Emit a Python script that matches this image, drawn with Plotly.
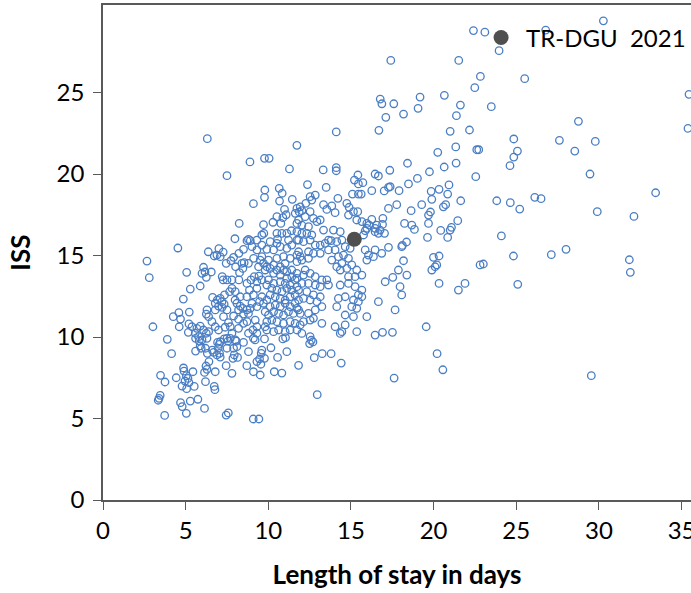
import plotly.graph_objects as go

# Length of stay (days) and ISS for each hospital
los_days = [
    6.31, 11.73, 8.89, 9.77, 10.05, 11.28, 7.5,
    22.41, 23.1, 17.41, 21.52, 22.83, 22.49, 16.77, 16.87, 17.59, 19.18,
    19.06, 18.18, 17.11, 20.65, 21.62, 21.38, 23.49, 14.11, 16.69, 21.0,
    22.17, 20.25, 21.34, 22.61, 22.73, 13.32, 14.11, 14.11, 15.42, 17.35,
    18.42, 19.75, 20.64, 21.36,
    30.27, 26.78, 23.96, 25.51, 35.45, 35.39, 28.76, 24.85, 27.61, 29.78,
    25.07, 28.54, 24.85, 24.62,
    29.46, 33.43, 23.82, 24.64, 25.21, 26.12, 26.5, 29.9, 32.12, 24.1,
    24.83, 27.12, 28.01, 31.84, 31.9, 25.09, 29.54,
    12.6, 12.7, 12.5, 11.83, 12.78, 13.26, 13.8, 14.41, 12.96, 17.61,
    20.21, 20.56,
    3.89, 4.15, 3.48, 3.75, 4.43, 4.87, 4.9, 5.44, 5.04, 5.14,
    4.96, 5.2, 4.78, 5.52, 5.06, 3.46, 3.39, 3.34, 3.73, 4.69,
    4.79, 5.04, 5.28, 5.74, 6.14, 6.2, 6.73, 6.77, 6.79, 6.23,
    6.29, 6.14, 6.41, 7.45, 7.58, 9.09, 9.43, 5.6, 5.88, 5.82,
    5.94, 6.2, 6.31, 6.61, 6.97, 7.03, 7.05, 6.89, 6.69, 7.09,
    7.45, 7.8, 7.5, 7.56, 7.5, 7.86, 7.94, 7.9, 8.06, 8.14,
    8.1, 8.5, 8.7, 8.8, 9.1, 9.31, 9.47, 9.55, 9.51, 9.61,
    9.57, 9.1, 9.2, 9.77, 10.16, 9.77, 10.36, 10.56, 10.82, 11.12,
    10.88, 11.04, 5.6, 5.78, 5.99, 6.29, 6.93, 7.09, 7.33, 7.7,
    8.0,
    10.66, 10.84, 9.79, 9.77, 11.45, 10.68, 9.1, 10.98, 11.08, 11.63,
    11.87, 10.52, 10.88, 8.24, 9.71, 10.28, 10.76, 11.73, 9.73, 10.52,
    10.82, 11.4, 7.98, 8.8, 8.91, 10.56, 10.52, 11.22, 11.73, 4.53,
    6.37, 7.01, 6.73, 6.89, 7.27, 7.09, 2.66, 2.8, 3.02, 5.06,
    5.28, 4.86, 4.25, 4.59, 5.22, 4.69, 4.61, 5.2, 5.16, 5.88,
    6.08, 6.17, 5.99, 6.55, 6.25, 6.63, 6.91, 6.79, 7.09, 7.35,
    7.2, 7.21, 7.5, 7.27, 8.22, 8.02, 8.26, 8.4, 8.54, 8.46,
    8.22, 8.5, 8.71, 7.8, 8.0, 7.66, 6.29, 6.25, 6.39, 6.79,
    6.99, 7.2, 7.33, 7.5, 7.29, 7.59, 7.39, 7.7, 5.38, 5.68,
    5.88, 6.08, 6.25, 6.39, 5.58, 8.1, 8.3, 8.46, 8.71, 8.2,
    8.5, 8.8, 8.91, 7.9, 8.2, 8.71, 9.21, 9.31, 9.07, 8.8,
    9.31, 8.71, 8.95, 9.15, 9.43, 9.31, 9.61, 8.86, 9.31, 9.1,
    9.61, 9.47, 9.71, 9.31, 9.01,
    9.51, 9.71, 9.91, 10.11, 10.32, 10.01, 9.41, 9.81, 10.52, 10.72,
    10.92, 10.32, 10.72, 11.12, 11.42, 11.12, 11.42, 11.73, 11.62, 11.32,
    11.02, 10.72, 10.32, 10.01, 9.91, 10.21, 10.52, 10.82, 11.12, 11.42,
    11.73, 11.62, 11.32, 11.02, 10.72, 10.42, 10.11, 9.91, 10.11, 10.42,
    10.72, 11.02, 11.32, 11.62, 11.83, 11.52, 11.22, 10.92, 10.62, 10.32,
    10.01, 9.81, 9.91, 10.21, 10.52, 10.92, 11.32, 11.62, 11.73, 11.32,
    11.02, 10.62, 10.32, 9.91, 9.81,
    9.01, 9.61, 9.91, 9.31, 10.32, 10.72, 11.12, 11.42, 11.83, 10.92,
    11.32, 11.73, 10.52, 11.02, 9.11, 8.8, 9.61, 9.31, 9.61, 10.11,
    11.12, 7.9, 7.74, 7.45, 7.8, 8.7, 8.3, 7.99, 8.5, 8.2,
    6.79, 6.99, 7.8, 6.59,
    15.21, 15.45, 15.72, 16.46, 16.66, 12.37, 13.5, 15.09, 15.45, 15.62,
    16.26, 17.01, 17.27, 17.37, 17.91, 18.48, 19.02, 19.85, 20.33, 20.93,
    20.85, 21.64, 22.55, 19.89, 19.28, 20.59, 20.73, 18.64, 19.81, 19.69,
    21.46, 20.43, 21.08, 21.0, 20.85, 19.63, 19.69, 18.24, 18.68, 18.84,
    18.36, 18.07, 18.11, 17.77, 17.27, 16.93, 16.91, 16.26, 16.1, 15.96,
    16.46, 16.56, 16.76, 17.03, 16.66, 16.46, 15.86, 15.76,
    14.89, 15.15, 15.41, 14.85, 15.35, 15.66, 15.96, 14.75, 14.21, 14.04,
    13.54, 13.84, 13.34, 12.84, 12.63, 12.53, 12.27, 11.93, 11.73, 12.03,
    12.53, 11.83, 12.23, 12.73, 12.94, 13.14, 12.43, 12.03, 13.34, 13.94,
    14.35, 13.64, 13.8, 14.45, 14.14, 14.65, 14.95, 14.04, 11.73, 12.03,
    12.33, 12.63, 12.53, 12.13, 11.83, 12.84, 13.14, 13.44, 13.64, 13.14,
    12.73, 12.43, 11.93, 11.73, 12.03, 12.43, 13.84, 14.24, 14.55, 14.85,
    14.45, 14.14, 14.35, 14.75, 15.05, 15.35, 15.66, 15.25, 14.85, 15.86,
    16.06, 16.36, 15.96, 16.46, 16.86, 17.27,
    12.23, 12.53, 12.13, 12.84, 13.24, 13.54, 13.64, 13.14, 12.84, 12.43,
    12.03, 11.73, 11.83, 12.33, 12.73, 13.14, 12.94, 12.53, 12.13, 11.83,
    13.24, 12.84, 12.43, 11.93, 11.73, 12.53, 12.13, 12.73, 13.24, 11.93,
    12.03, 12.53, 14.35, 14.85, 15.25, 15.66, 15.45, 15.15, 15.45, 15.66,
    14.65, 14.24, 14.14, 15.05, 15.35, 14.65, 15.15, 15.96, 16.66, 17.07,
    17.53, 17.87, 18.18, 18.38, 17.97, 18.07, 17.67, 19.99, 20.33, 19.89,
    20.09, 20.19, 20.33, 21.5, 21.9, 22.81, 23.01, 19.55, 14.35, 14.45,
    15.35, 16.46, 16.91, 17.51, 14.65, 14.04,
]

iss_score = [
    22.17, 21.76, 20.74, 20.96, 20.96, 20.31, 19.9,
    28.8, 28.7, 26.97, 26.97, 25.99, 25.3, 24.6, 24.31, 24.31, 24.72,
    24.03, 23.68, 23.48, 24.83, 24.23, 23.58, 24.13, 22.58, 22.68, 22.62,
    22.7, 21.33, 21.66, 21.49, 21.49, 20.25, 20.39, 20.2, 19.94, 20.23,
    20.66, 20.14, 20.43, 20.67,
    29.4, 28.83, 27.57, 25.85, 24.89, 22.8, 23.23, 22.15, 22.07, 22.0,
    21.41, 21.41, 21.04, 20.51,
    20.0, 18.85, 18.36, 18.24, 17.85, 18.57, 18.49, 17.69, 17.4, 16.2,
    14.97, 15.05, 15.38, 14.74, 13.97, 13.23, 7.63,
    9.8, 9.7, 9.6, 8.26, 8.73, 8.98, 8.98, 8.4, 6.46, 7.48,
    8.98, 7.99,
    9.86, 8.98, 7.65, 7.24, 7.5, 8.1, 7.91, 7.87, 7.63, 7.46,
    7.3, 7.2, 6.99, 6.97, 6.83, 6.42, 6.24, 6.12, 5.19, 5.97,
    5.73, 5.32, 6.07, 6.18, 5.62, 7.26, 6.97, 6.77, 7.87, 8.22,
    8.02, 7.83, 8.49, 5.21, 5.34, 4.97, 4.97, 9.14, 9.45, 9.75,
    9.31, 9.31, 9.0, 9.2, 9.31, 9.55, 9.0, 8.9, 9.06, 8.77,
    8.24, 7.77, 9.31, 9.75, 9.92, 8.69, 8.9, 9.31, 9.75, 8.75,
    9.41, 9.67, 8.24, 9.1, 7.87, 8.49, 8.65, 8.33, 7.67, 9.2,
    9.0, 9.92, 9.82, 8.69, 9.34, 9.88, 7.87, 8.75, 7.79, 9.1,
    9.88, 9.96, 9.92, 10.02, 9.82, 9.92, 9.67, 9.71, 9.88, 9.92,
    9.82,
    19.12, 18.82, 19.02, 18.57, 18.45, 18.34, 18.18, 17.83, 17.5, 17.59,
    17.67, 17.38, 17.32, 16.97, 16.89, 17.04, 16.97, 16.97, 16.36, 16.36,
    16.36, 16.52, 16.03, 15.99, 15.91, 16.01, 15.75, 15.95, 15.95, 15.46,
    15.23, 15.42, 14.97, 15.03, 15.21, 14.93, 14.66, 13.64, 10.63, 13.97,
    12.94, 12.33, 11.25, 11.49, 11.53, 11.1, 10.63, 10.8, 10.29, 13.13,
    14.28, 13.99, 13.91, 13.99, 13.66, 12.43, 12.27, 12.07, 12.37, 12.58,
    12.17, 13.7, 13.5, 13.5, 13.5, 14.31, 13.95, 14.52, 14.56, 14.21,
    15.13, 15.38, 15.91, 12.99, 12.78, 12.78, 11.66, 11.41, 11.25, 11.66,
    11.9, 11.82, 12.02, 11.66, 11.25, 10.88, 10.6, 10.63, 10.63, 10.53,
    10.67, 10.43, 10.23, 10.33, 10.23, 12.07, 11.9, 11.76, 11.66, 11.66,
    11.41, 11.45, 11.76, 11.29, 11.09, 10.94, 11.04, 10.63, 10.43, 10.23,
    10.23, 13.29, 13.5, 13.7, 13.74, 13.39, 13.5, 12.88, 12.99, 12.58,
    12.47, 12.17, 12.07, 11.86, 12.07,
    14.72, 14.52, 14.31, 14.21, 14.42, 14.72, 14.31, 14.11, 14.11, 14.31,
    14.11, 13.91, 13.8, 14.01, 14.11, 13.6, 13.7, 13.91, 13.5, 13.19,
    13.29, 13.39, 13.29, 13.5, 13.19, 12.99, 12.88, 12.78, 12.99, 12.88,
    13.09, 12.58, 12.47, 12.27, 12.37, 12.47, 12.58, 12.27, 11.86, 11.96,
    11.86, 12.07, 11.86, 12.07, 11.66, 11.45, 11.55, 11.35, 11.45, 11.55,
    11.35, 11.55, 10.94, 11.04, 10.94, 10.84, 10.94, 10.84, 10.43, 10.43,
    10.33, 10.43, 10.33, 10.43, 10.63,
    15.54, 15.64, 15.38, 15.34, 15.34, 15.54, 15.44, 15.64, 15.23, 14.93,
    14.83, 14.62, 14.83, 14.52, 14.83, 14.52, 14.93, 15.95, 16.26, 15.85,
    16.36, 14.89, 14.68, 14.52, 13.5, 12.47, 12.47, 12.27, 10.84, 10.53,
    10.63, 10.43, 10.23, 10.94,
    19.63, 19.39, 19.47, 20.0, 19.88, 19.35, 19.18, 18.77, 18.77, 18.77,
    18.98, 18.96, 19.18, 19.22, 18.98, 19.39, 19.73, 18.94, 19.06, 19.33,
    18.77, 18.36, 19.84, 18.45, 18.12, 17.99, 18.12, 17.75, 17.67, 17.48,
    17.14, 16.54, 16.73, 16.56, 16.11, 16.11, 16.97, 16.97, 16.87, 16.6,
    15.83, 15.54, 15.62, 18.12, 17.89, 17.28, 16.91, 17.22, 16.87, 16.67,
    16.67, 16.87, 16.56, 16.36, 16.36, 16.46, 16.52, 16.26,
    17.96, 17.69, 17.69, 17.48, 17.18, 17.08, 16.97, 18.2, 18.51, 17.63,
    17.83, 18.04, 18.12, 18.71, 18.4, 18.61, 18.2, 17.99, 17.89, 17.75,
    17.69, 17.18, 17.38, 17.28, 17.08, 17.18, 16.77, 16.87, 16.56, 16.56,
    16.46, 15.95, 15.91, 15.95, 15.85, 15.54, 15.44, 15.34, 16.46, 16.36,
    16.36, 16.26, 15.95, 15.85, 15.95, 15.64, 15.64, 15.75, 15.34, 15.13,
    15.13, 15.23, 14.93, 15.03, 14.72, 14.83, 14.72, 14.93, 15.03, 14.83,
    14.52, 14.31, 14.11, 14.21, 14.42, 14.11, 13.8, 13.7, 13.7, 15.34,
    15.03, 14.93, 14.72, 15.34, 15.13, 15.5,
    14.11, 13.91, 13.8, 13.7, 13.5, 13.5, 13.19, 13.09, 13.19, 13.29,
    13.29, 13.6, 12.88, 12.78, 12.58, 12.47, 12.17, 12.27, 12.37, 12.27,
    11.86, 11.66, 11.45, 11.45, 11.76, 11.04, 10.94, 11.15, 10.84, 10.74,
    10.22, 10.02, 13.19, 13.29, 13.09, 12.88, 12.58, 12.27, 12.17, 12.47,
    12.47, 12.37, 11.86, 11.86, 11.76, 11.35, 11.25, 11.25, 12.17, 13.39,
    13.66, 14.11, 14.68, 13.8, 13.09, 12.58, 11.66, 14.89, 14.97, 14.11,
    14.31, 14.42, 13.29, 12.88, 13.29, 14.42, 14.48, 10.63, 10.22, 10.33,
    10.33, 10.12, 10.29, 10.29, 10.74, 10.63,
]

assert len(los_days) == len(iss_score)

# TR-DGU 2021 overall value
tr_dgu_los = [15.2]
tr_dgu_iss = [16.0]
tr_dgu_name = "TR-DGU\u00a0\u00a02021"

x_ticks = [0, 5, 10, 15, 20, 25, 30, 35]
y_ticks = [0, 5, 10, 15, 20, 25]

FONT = "Lato, 'Open Sans', sans-serif"
AXIS_COLOR = "#595959"

fig = go.Figure()

fig.add_trace(go.Scatter(
    x=los_days, y=iss_score,
    mode="markers",
    marker=dict(symbol="circle-open", size=7.5, color="#4a7ec4",
                line=dict(width=1.3, color="#4a7ec4")),
    showlegend=False,
    hoverinfo="x+y",
))

fig.add_trace(go.Scatter(
    x=tr_dgu_los, y=tr_dgu_iss,
    mode="markers",
    marker=dict(symbol="circle", size=15, color="#4f4f4f"),
    name=tr_dgu_name,
    showlegend=True,
))

fig.update_layout(
    width=691, height=593,
    margin=dict(l=103, r=0, t=5, b=93, autoexpand=False),
    paper_bgcolor="white",
    plot_bgcolor="white",
    font=dict(family=FONT, size=24, color="#000000"),
    showlegend=True,
    legend=dict(
        x=0.6345, y=0.979, xanchor="left", yanchor="top",
        bgcolor="rgba(0,0,0,0)",
        font=dict(family=FONT, size=24, color="#000000"),
        itemsizing="trace",
        itemwidth=40,
    ),
    xaxis=dict(
        range=[0, 35.57],
        tickvals=x_ticks,
        ticks="outside", ticklen=8, tickwidth=1.3, tickcolor=AXIS_COLOR,
        showline=True, linecolor=AXIS_COLOR, linewidth=1.5, mirror=True,
        showgrid=False, zeroline=False,
        ticklabeloverflow="allow",
        tickfont=dict(family=FONT, size=24, color="#000000"),
        title=dict(text="<b>Length of stay in days</b>",
                   font=dict(family=FONT, size=26, color="#000000"),
                   standoff=23),
    ),
    yaxis=dict(
        range=[0, 30.37],
        tickvals=y_ticks,
        ticks="outside", ticklen=8, tickwidth=1.3, tickcolor=AXIS_COLOR,
        showline=True, linecolor=AXIS_COLOR, linewidth=1.5,
        showgrid=False, zeroline=False,
        tickfont=dict(family=FONT, size=24, color="#000000"),
        ticklabelstandoff=4,
        title=dict(text="<b>ISS</b>",
                   font=dict(family=FONT, size=26, color="#000000"),
                   standoff=19),
    ),
)

fig.write_html("out.html")
